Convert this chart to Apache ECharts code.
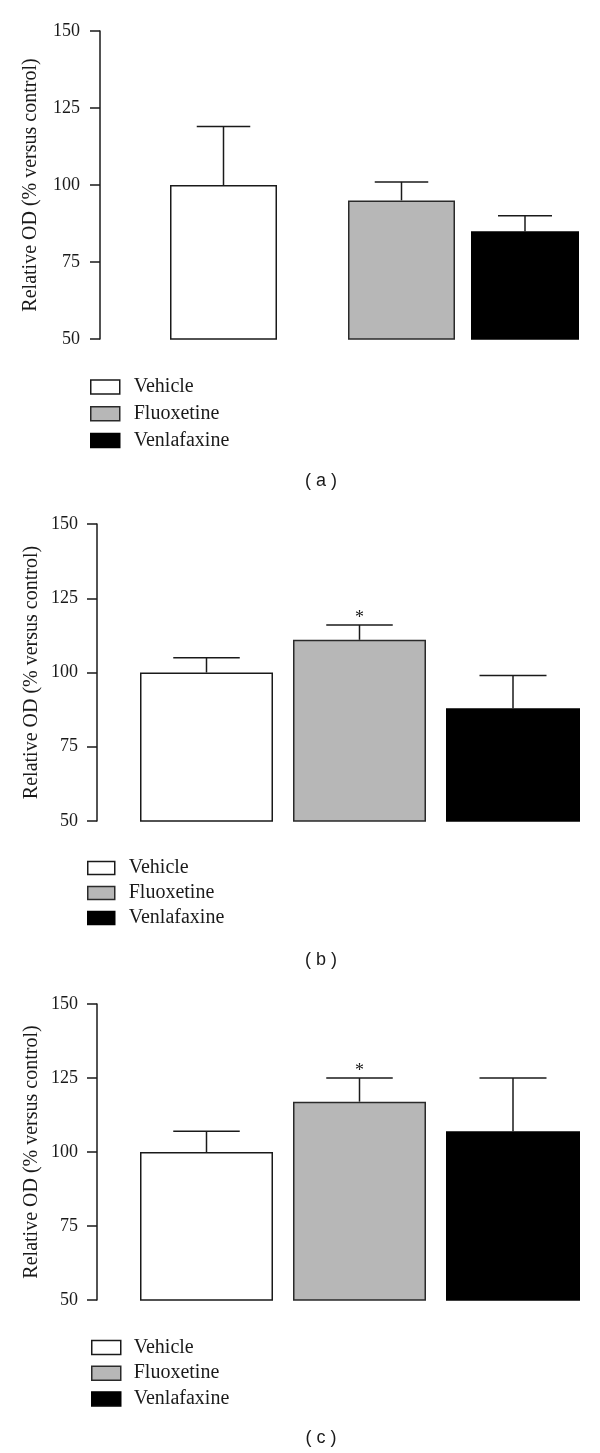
<!DOCTYPE html>
<html><head><meta charset="utf-8">
<script src="https://cdn.jsdelivr.net/npm/echarts@6/dist/echarts.min.js"></script>
<style>html,body{margin:0;padding:0;background:#fff}#c{width:600px;height:1453px}</style>
</head><body><div id="c"></div>
<script>
// ---- data ----
const treatments = ['Vehicle', 'Fluoxetine', 'Venlafaxine'];
const panelLabels = ['( a )', '( b )', '( c )'];
const yAxisName = 'Relative OD (% versus control)';
const yMin = 50, yMax = 150, yStep = 25;

const meansA = [100, 95, 85];
const semA   = [19, 6, 5];
const starsA = ['', '', ''];

const meansB = [100, 111, 88];
const semB   = [5, 5, 11];
const starsB = ['', '*', ''];

const meansC = [100, 117, 107];
const semC   = [7, 8, 18];
const starsC = ['', '*', ''];

const panelData = [
  { means: meansA, sem: semA, stars: starsA },
  { means: meansB, sem: semB, stars: starsB },
  { means: meansC, sem: semC, stars: starsC }
];

// ---- layout & style ----
const fills = ['#ffffff', '#b7b7b7', '#000000'];
const borders = ['#1a1a1a', '#2a2a2a', '#000000'];
const serif = '"Liberation Serif", "DejaVu Serif", serif';
const layout = [
  { axisX: 100, top: 31, bottom: 339, bars: [[170, 277], [348, 455], [471, 579]],
    nameGap: 59, labelMargin: 20, legendLeft: 90, legendTop: 376, rowGap: 4.7, iconW: 29, iconH: 14, textGap: 14, labelX: 321, labelY: 481 },
  { axisX: 97, top: 524, bottom: 821, bars: [[140, 273], [293, 426], [446, 580]],
    nameGap: 55, labelMargin: 19, legendLeft: 87, legendTop: 857, rowGap: 3, iconW: 27, iconH: 13, textGap: 14, labelX: 321, labelY: 960 },
  { axisX: 97, top: 1004, bottom: 1300, bars: [[140, 273], [293, 426], [446, 580]],
    nameGap: 55, labelMargin: 19, legendLeft: 91, legendTop: 1336.5, rowGap: 3.7, iconW: 29, iconH: 14, textGap: 13, labelX: 321, labelY: 1438 }
];

const grids = [], xAxes = [], yAxes = [], series = [], legends = [], graphics = [];

layout.forEach((L, p) => {
  const D = panelData[p];
  treatments.forEach((name, i) => {
    const gi = grids.length;
    const [x0, x1] = L.bars[i];
    const star = D.stars[i];
    grids.push({ left: x0, width: x1 - x0, top: L.top, height: L.bottom - L.top, containLabel: false });
    xAxes.push({ type: 'category', gridIndex: gi, data: [name], show: false, boundaryGap: true });
    const showY = i === 0;
    yAxes.push({
      type: 'value', gridIndex: gi, min: yMin, max: yMax, interval: yStep,
      show: showY, position: 'left', offset: x0 - L.axisX,
      name: showY ? yAxisName : '', nameLocation: 'middle', nameGap: L.nameGap, nameRotate: 90,
      nameTextStyle: { fontFamily: serif, fontSize: 20, color: '#1a1a1a' },
      axisLine: { show: true, lineStyle: { color: '#1a1a1a', width: 1.5 } },
      axisTick: { show: true, length: 10, lineStyle: { color: '#1a1a1a', width: 1.5 } },
      axisLabel: { margin: L.labelMargin, fontFamily: serif, fontSize: 18, color: '#1a1a1a' },
      splitLine: { show: false }
    });
    series.push({
      type: 'bar', name: name, xAxisIndex: gi, yAxisIndex: gi,
      data: [D.means[i]], barWidth: '100%', silent: true,
      itemStyle: { color: fills[i], borderColor: borders[i], borderWidth: 1.5 },
      animation: false
    });
    series.push({
      type: 'custom', xAxisIndex: gi, yAxisIndex: gi, silent: true, animation: false,
      data: [[0, D.means[i], D.means[i] + D.sem[i]]],
      renderItem: function (params, api) {
        const base = api.coord([api.value(0), api.value(1)]);
        const top = api.coord([api.value(0), api.value(2)]);
        const bw = api.size([1, 0])[0];
        const half = bw / 4;
        const style = { stroke: '#1a1a1a', lineWidth: 1.5 };
        const children = [
          { type: 'line', shape: { x1: base[0], y1: base[1], x2: top[0], y2: top[1] }, style },
          { type: 'line', shape: { x1: top[0] - half, y1: top[1], x2: top[0] + half, y2: top[1] }, style }
        ];
        if (star) {
          children.push({ type: 'text', style: { text: star, x: top[0], y: top[1] - 7,
            align: 'center', verticalAlign: 'middle', fontFamily: serif, fontSize: 18, fill: '#1a1a1a' } });
        }
        return { type: 'group', children };
      }
    });
  });
  legends.push({
    orient: 'vertical', left: L.legendLeft, top: L.legendTop, padding: 0,
    itemWidth: L.iconW, itemHeight: L.iconH, itemGap: L.rowGap,
    selectedMode: false, icon: 'rect',
    data: treatments.map((n, i) => ({ name: n, itemStyle: { color: fills[i], borderColor: borders[i], borderWidth: 1.5 } })),
    textStyle: { fontFamily: serif, fontSize: 20, color: '#1a1a1a', lineHeight: 22, padding: [0, 0, 0, L.textGap - 5] }
  });
  graphics.push({
    type: 'text', x: L.labelX, y: L.labelY,
    style: { text: panelLabels[p], fontFamily: '"Liberation Sans", Arial, sans-serif', fontSize: 18,
      fill: '#1a1a1a', align: 'center', verticalAlign: 'middle' }
  });
});

const chart = echarts.init(document.getElementById('c'), null, { renderer: 'canvas' });
chart.setOption({
  backgroundColor: '#ffffff',
  animation: false,
  grid: grids, xAxis: xAxes, yAxis: yAxes, series: series, legend: legends, graphic: graphics
});
</script></body></html>
